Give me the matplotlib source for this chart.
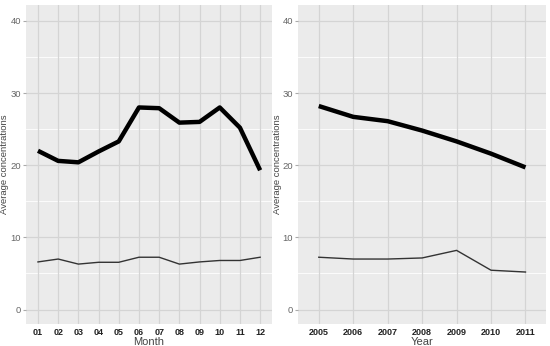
import matplotlib.pyplot as plt
import numpy as np

months = ['01', '02', '03', '04', '05', '06', '07', '08', '09', '10', '11', '12']
month_thick = [22.0, 20.6, 20.4, 21.9, 23.3, 28.0, 27.9, 25.9, 26.0, 28.0, 25.2, 19.3]
month_thin = [6.6, 7.0, 6.3, 6.55, 6.55, 7.25, 7.25, 6.3, 6.6, 6.8, 6.8, 7.25]

years = ['2005', '2006', '2007', '2008', '2009', '2010', '2011']
year_thick = [28.2, 26.7, 26.1, 24.8, 23.3, 21.6, 19.7]
year_thin = [7.25, 7.0, 7.0, 7.15, 8.2, 5.45, 5.2]

yticks = [0, 10, 20, 30, 40]

plt.rcParams['font.family'] = ['Liberation Sans', 'DejaVu Sans']

fig = plt.figure(figsize=(5.5, 3.46), dpi=100)
ax1 = fig.add_axes([0.047, 0.0636, 0.448, 0.922])
ax2 = fig.add_axes([0.542, 0.0636, 0.451, 0.922])


def style(ax, labels, thick, thin, xlabel, ylab_x):
    x = np.arange(1, len(labels) + 1)
    ax.set_facecolor('#ebebeb')
    for s in ax.spines.values():
        s.set_visible(False)
    for v in [5, 15, 25, 35]:
        ax.axhline(v, color='white', lw=0.6, zorder=0)
    for v in yticks:
        ax.axhline(v, color='#d4d4d4', lw=0.9, zorder=0)
    for xv in x:
        ax.axvline(xv, color='#d4d4d4', lw=0.9, zorder=0)
    ax.plot(x, thick, color='black', lw=3.2, solid_capstyle='butt', zorder=3)
    ax.plot(x, thin, color='#333333', lw=1.0, zorder=3)
    ax.set_xlim(0.4, len(labels) + 0.6)
    ax.set_ylim(-2, 42.2)
    ax.set_xticks(x)
    ax.set_xticklabels(labels, fontsize=6.5, fontweight='bold', color='#222222')
    ax.set_yticks(yticks)
    ax.set_yticklabels([str(v) for v in yticks], fontsize=6.8, color='#666666')
    ax.tick_params(axis='x', length=0, pad=3)
    ax.tick_params(axis='y', length=2, color='#aaaaaa', pad=1.5)
    ax.set_xlabel(xlabel, fontsize=8, color='#444444', labelpad=0)
    ax.set_ylabel('Average concentrations', fontsize=6.8, color='#444444')
    ax.yaxis.set_label_coords(ylab_x, 0.5)


style(ax1, months, month_thick, month_thin, 'Month', -0.068)
style(ax2, years, year_thick, year_thin, 'Year', -0.063)

fig.savefig('out.png', dpi=100)
